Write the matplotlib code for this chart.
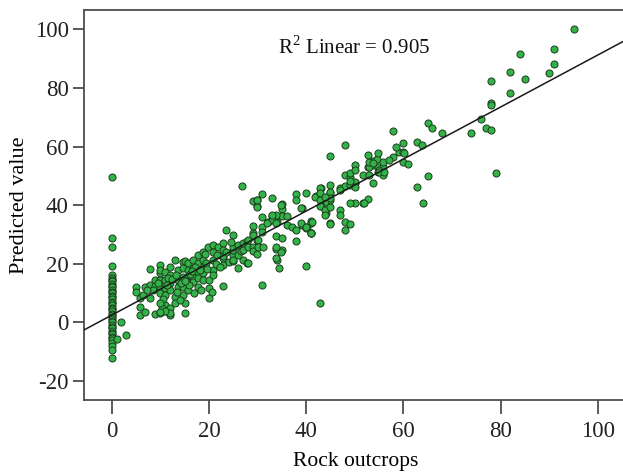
"""
Rock outcrops vs predicted value: scatter with linear fit (SPSS style).
"""
import matplotlib
matplotlib.use("Agg")
import matplotlib.pyplot as plt
import numpy as np

# points sitting on rock outcrops = 0
zero_col_y = [49.5, 28.7, 25.8, 19.2, 16.0, 15.0, 14.5, 14.0, 13.0, 12.5, 12.0, 11.0,
              10.5, 10.0, 9.0, 8.5, 8.0, 7.0, 6.5, 6.0, 5.0, 4.5, 4.0, 3.0, 2.5, 2.0,
              1.0, 0.5, 0.0, -1.0, -1.5, -2.0, -3.0, -3.5, -4.0, -5.0, -5.5, -6.0,
              -7.0, -8.0, -9.5, -12.0]

# low range (0 - 30)
low_x = [1.0, 2.0, 3.0, 5.0, 5.0, 5.8, 5.8, 5.8, 6.8, 6.8, 7.9, 7.9, 7.9, 8.9, 8.9, 8.9,
         9.9, 9.9, 9.9, 9.9, 9.9, 9.9, 9.9, 10.9, 10.9, 10.9, 10.9, 10.9, 10.9, 10.3,
         12.0, 12.0, 12.0, 12.0, 12.0, 12.0, 12.0, 13.0, 13.0, 13.0, 13.7, 13.7, 13.7,
         14.7, 14.7, 14.7, 14.7, 14.7, 15.1, 15.1, 15.1, 15.7, 15.7, 15.7, 15.7,
         16.8, 16.8, 16.8, 16.8, 17.8, 17.8, 17.8, 17.8, 17.8, 18.8, 18.8, 18.8, 18.8,
         18.8, 19.9, 20.1, 20.1, 20.1, 20.6, 20.9, 20.9, 20.9, 20.9, 20.9, 21.9,
         22.9, 22.9, 22.9, 22.9, 22.9, 22.9, 23.6, 24.2, 24.9, 24.9, 24.9, 24.9, 25.0,
         25.0, 26.0, 26.0, 26.0, 26.7, 26.9, 27.1, 27.1, 27.1, 27.9, 27.9, 28.1, 28.1,
         28.1, 29.0, 29.0, 29.0, 29.0, 29.1, 29.1, 29.8, 29.8, 29.8, 29.8,
         8.5, 9.5, 11.5, 12.5, 13.2, 14.2, 15.2, 16.2, 17.2, 18.2, 19.4, 19.6, 21.5,
         22.2, 16.0, 11.4, 6.5, 7.2, 10.5, 13.5, 14.0, 18.4, 17.0, 21.6, 23.5, 24.5,
         19.2, 16.6, 10.9, 9.9, 10.0, 15.1]
low_y = [-5.7, 0.2, -4.3, 12.2, 10.4, 8.2, 5.3, 2.5, 12.2, 3.6, 18.1, 12.7, 8.2, 14.4, 12.4, 2.8,
         19.6, 16.7, 14.4, 12.2, 9.9, 3.1, 17.8, 17.3, 14.4, 11.6, 9.3, 5.9, 3.9, 4.8,
         19.0, 16.1, 13.3, 11.0, 4.8, 2.5, 3.3, 21.3, 8.7, 6.5, 17.8, 14.4, 12.2,
         20.7, 18.4, 15.6, 12.2, 9.3, 6.5, 3.3, 21.0, 20.3, 17.8, 15.6, 11.0,
         21.3, 18.4, 15.6, 13.9, 23.0, 20.1, 17.3, 15.0, 12.2, 24.1, 21.3, 19.0, 16.7,
         14.4, 25.8, 14.4, 11.9, 8.2, 10.4, 26.4, 24.1, 21.3, 17.8, 16.1, 25.8,
         27.0, 24.7, 21.8, 12.4, 22.6, 19.6, 31.5, 20.5, 29.8, 20.9, 23.0, 24.7, 25.8,
         21.3, 18.6, 26.4, 23.0, 24.4, 46.5, 27.0, 24.7, 21.3, 27.7, 20.3, 28.1, 25.8,
         20.1, 41.5, 32.9, 30.4, 25.8, 29.8, 24.3, 39.7, 23.3, 28.1, 41.7,
         11.0, 13.3, 15.2, 14.8, 16.3, 13.6, 14.2, 16.6, 18.9, 17.9, 20.4, 18.2, 20.0,
         19.0, 12.8, 12.6, 9.5, 11.2, 8.0, 10.2, 7.5, 11.0, 10.0, 23.0, 24.0, 27.6,
         23.5, 17.5, 3.9, 6.5, 3.6, 14.2]

# mid range (30 - 56)
mid_x = [29.9, 31.0, 33.0, 35.0, 35.0, 38.0, 38.0, 40.0, 42.0, 39.1, 31.0, 33.0, 35.0,
         36.0, 32.1, 33.0, 34.0, 36.0, 37.0, 38.0, 39.1, 40.1, 40.9, 40.9, 31.0, 31.0,
         30.0, 30.0, 31.1, 33.9, 33.9, 35.0, 35.0, 34.1, 34.5, 38.0, 40.0, 31.0, 42.9,
         44.9, 48.0, 46.9, 46.9, 46.9, 44.9, 44.9, 44.9, 44.9, 43.9, 43.0, 41.8, 44.1,
         43.1, 41.1, 40.0, 41.0, 38.9, 34.9, 33.9, 32.9, 31.9, 29.8, 33.9, 38.9, 34.9,
         33.9, 33.9, 44.9, 44.9, 42.8, 42.8, 42.8, 43.8, 42.8, 43.8, 43.8, 44.9, 40.0,
         41.2, 41.1, 45.0, 48.0, 49.0, 48.0, 50.0, 51.7, 52.8, 52.0, 49.0, 48.0, 48.0,
         49.0, 49.0, 50.0, 50.0, 50.0, 50.0, 49.0, 51.7, 53.0, 53.8, 50.0, 52.8, 53.8,
         54.8, 54.8, 55.9, 55.9, 53.0, 55.0, 55.0, 56.0, 53.8, 54.6, 53.0, 52.8, 54.8,
         53.8, 55.9, 47.0, 49.0]
mid_y = [39.5, 43.7, 42.5, 40.4, 38.6, 43.7, 41.7, 44.2, 43.1, 38.9, 36.0, 36.3, 36.3,
         36.3, 34.3, 35.0, 34.3, 33.2, 32.6, 31.5, 33.2, 32.4, 34.6, 30.6, 32.6, 30.9,
         28.1, 25.8, 25.8, 29.5, 25.2, 28.7, 24.7, 21.3, 18.4, 27.8, 19.2, 12.7, 6.5,
         56.8, 60.5, 45.7, 38.3, 36.6, 33.8, 44.0, 46.9, 41.7, 41.2, 45.7, 42.9, 37.2,
         39.7, 33.8, 32.1, 30.6, 39.2, 40.0, 36.6, 36.6, 34.0, 41.7, 33.8, 33.8, 24.1,
         25.8, 21.8, 44.6, 42.3, 45.7, 44.0, 41.9, 42.9, 39.7, 38.5, 36.8, 39.4, 32.6,
         34.3, 30.6, 33.5, 34.3, 33.7, 31.5, 40.6, 40.6, 42.0, 40.6, 40.6, 46.5, 50.3,
         49.7, 51.1, 53.7, 52.0, 47.4, 48.0, 46.9, 50.3, 50.3, 47.4, 46.3, 53.1, 53.6,
         53.1, 51.4, 53.1, 50.3, 53.1, 52.0, 51.2, 51.4, 55.0, 55.6, 54.8, 57.1, 57.7,
         54.5, 54.8, 45.3, 48.4]

# high range (56 - 100)
high_x = [57.9, 65.0, 65.9, 68.0, 60.0, 62.9, 63.9, 59.0, 60.0, 60.0, 61.0, 57.9, 60.1,
          65.0, 62.9, 64.0, 73.9, 76.0, 77.1, 78.0, 78.0, 78.0, 78.0, 79.0, 81.9,
          81.9, 84.0, 85.0, 90.0, 91.0, 91.0, 95.1, 57.0, 58.5]
high_y = [65.4, 67.9, 66.2, 64.5, 61.1, 61.6, 60.4, 58.3, 58.3, 54.8, 54.2, 56.5, 57.8,
          49.9, 46.3, 40.8, 64.7, 69.3, 66.2, 65.6, 82.5, 75.0, 74.3, 50.9, 85.5,
          78.2, 91.6, 83.1, 85.2, 93.3, 88.1, 100.1, 55.5, 60.0]

xs = np.concatenate([np.zeros(len(zero_col_y)), low_x, mid_x, high_x])
ys = np.concatenate([zero_col_y, low_y, mid_y, high_y])

plt.rcParams["font.family"] = ["Liberation Serif", "DejaVu Serif"]
plt.rcParams["mathtext.fontset"] = "custom"
plt.rcParams["mathtext.rm"] = "Liberation Serif"
plt.rcParams["axes.unicode_minus"] = False

fig = plt.figure(figsize=(6.23, 4.73), dpi=100)
ax = fig.add_axes([0.1348, 0.1543, 0.8716, 0.8245])

frame_col = "#4d4d4d"
ax.scatter(xs, ys, s=26, c="#33b24a", edgecolors="#1c3d1c", linewidths=0.7, zorder=3)

# least squares line, spanning the whole plot
slope, intercept = np.polyfit(xs, ys, 1)
xl = np.array([-10.0, 110.0])
ax.plot(xl, intercept + slope * xl, color="#1a1a1a", linewidth=1.1, zorder=4)

ax.set_xlim(-5.7, 106)
ax.set_ylim(-26.5, 106.6)
ax.set_xticks([0, 20, 40, 60, 80, 100])
ax.set_yticks([-20, 0, 20, 40, 60, 80, 100])
ax.tick_params(axis="both", labelsize=16.5, colors="#222222")
ax.tick_params(axis="x", length=10, width=1.3, color=frame_col, pad=5, direction="out")
ax.tick_params(axis="y", length=8, width=1.3, color=frame_col, pad=3, direction="out")
for side in ["left", "bottom", "top"]:
    ax.spines[side].set_color(frame_col)
    ax.spines[side].set_linewidth(1.3)
ax.spines["right"].set_visible(False)

ax.set_xlabel("Rock outcrops", fontsize=15.5, labelpad=7)
ax.set_ylabel("Predicted value", fontsize=16, labelpad=4)

ax.text(0.357, 0.905, "R$^{2}$ Linear = 0.905", transform=ax.transAxes,
        fontsize=15, ha="left", va="center", color="#111111")

fig.savefig("out.png", dpi=100)
